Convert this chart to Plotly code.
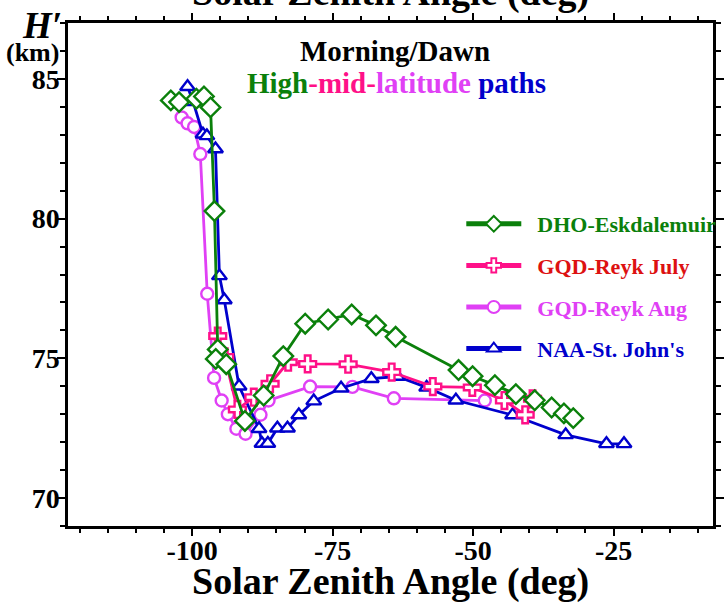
import plotly.graph_objects as go

# Solar zenith angle (deg) and reflection height H' (km) for each VLF path
sza_dho = [-103.80, -102.33, -99.25, -97.90, -96.73, -96.03, -95.45, -95.80, -93.93,
           -90.61, -87.28, -83.78, -79.88, -75.80, -71.61, -67.28, -63.79, -52.59,
           -50.09, -46.12, -42.39, -39.03, -36.02, -33.83, -32.17]
h_dho = [84.23, 84.17, 84.29, 84.37, 83.98, 80.27, 75.32, 74.98, 74.79,
         72.76, 73.67, 75.08, 76.24, 76.39, 76.57, 76.18, 75.77, 74.58,
         74.36, 74.04, 73.72, 73.50, 73.24, 73.03, 72.86]

sza_july = [-95.45, -94.20, -91.95, -89.03, -86.13, -82.91, -79.44, -72.24, -64.49,
            -57.17, -50.14, -44.42, -40.73, -39.42]
h_july = [75.80, 75.05, 73.17, 73.61, 74.09, 74.86, 74.80, 74.79, 74.51,
          73.99, 73.96, 73.49, 72.98, 73.55]

sza_aug = [-101.87, -100.82, -99.65, -98.55, -97.32, -96.10, -94.75, -93.65, -92.13,
           -90.50, -87.84, -86.41, -79.01, -71.48, -64.10, -47.92]
h_aug = [83.62, 83.41, 83.28, 82.31, 77.31, 74.30, 73.49, 73.00, 72.48,
         72.30, 72.98, 73.49, 73.99, 73.98, 73.57, 73.49]

sza_naa = [-100.82, -99.83, -98.08, -97.38, -95.85, -95.15, -94.28, -91.65, -88.10,
           -87.58, -86.53, -84.83, -83.03, -81.02, -78.36, -73.50, -68.11, -63.49,
           -58.27, -53.06, -42.97, -33.52, -26.26, -23.14]
h_naa = [84.72, 84.18, 83.02, 82.96, 82.49, 77.95, 77.09, 74.00, 72.48,
         71.95, 71.95, 72.50, 72.50, 72.97, 73.47, 73.93, 74.27, 74.35,
         73.96, 73.50, 72.97, 72.26, 71.94, 71.94]

x_ticks = [-100, -75, -50, -25]
y_ticks = [70, 75, 80, 85]

FONT = "Liberation Serif, Times New Roman, serif"
GREEN = "#0b800b"
PINK = "#ff1088"
MAGENTA = "#e040f5"
BLUE = "#0000cc"
RED = "#dd1111"

W, H = 726, 605
ML, MR, MT, MB = 68, 2, 23, 79


def fx(px):
    return (px - ML) / (W - ML - MR)


def fy(py):
    return 1 - (py - MT) / (H - MT - MB)


def series(x, y, name, color, text_color, symbol, size, rank):
    return go.Scatter(
        x=x, y=y, mode="lines+markers",
        name=f'&nbsp;&nbsp;<span style="color:{text_color}">{name}</span>',
        legendgroup=name, legendrank=rank,
        line=dict(color=color, width=2.8),
        marker=dict(symbol=symbol, size=size, color="white",
                    line=dict(color=color, width=2.4)),
    )


fig = go.Figure()
fig.add_trace(series(sza_aug, h_aug, "GQD-Reyk Aug", MAGENTA, MAGENTA, "circle", 12, 3))
fig.add_trace(series(sza_naa, h_naa, "NAA-St. John's", BLUE, BLUE, "triangle-up", 13, 4))
fig.add_trace(series(sza_july, h_july, "GQD-Reyk July", PINK, RED, "cross", 14, 2))
fig.add_trace(series(sza_dho, h_dho, "DHO-Eskdalemuir", GREEN, GREEN, "diamond", 15, 1))

axis_common = dict(
    showline=True, linecolor="black", linewidth=2.5, mirror="ticks",
    ticks="outside", tickcolor="black", tickwidth=2,
    showgrid=False, zeroline=False,
    tickfont=dict(family=FONT, size=28, color="black", weight="bold"),
)

fig.update_xaxes(
    range=[-122.1, -7.3], tickmode="array", tickvals=x_ticks,
    ticktext=[str(v) for v in x_ticks], ticklen=7, ticklabelstandoff=-9,
    minor=dict(dtick=5, tick0=0, ticks="outside", ticklen=4,
               tickcolor="black", tickwidth=2),
    **axis_common,
)
fig.update_yaxes(
    range=[69, 87], tickmode="array", tickvals=y_ticks,
    ticktext=[str(v) for v in y_ticks], ticklen=8, ticklabelstandoff=-8,
    minor=dict(dtick=1, tick0=0, ticks="outside", ticklen=5,
               tickcolor="black", tickwidth=2),
    **axis_common,
)

annotations = [
    dict(text="Solar Zenith Angle (deg)", x=fx(396), y=fy(581),
         font=dict(size=38, weight="bold")),
    dict(text="Solar Zenith Angle (deg)", x=fx(396), y=fy(-7),
         font=dict(size=38, weight="bold")),
    dict(text="<i>H′</i>", x=fx(42), y=fy(26), font=dict(size=37, weight="bold")),
    dict(text="(km)", x=fx(32), y=fy(53), font=dict(size=26, weight="bold")),
    dict(text="Morning/Dawn", x=fx(401), y=fy(51), font=dict(size=29, weight="bold")),
    dict(text=(f'<span style="color:{GREEN}">High</span>'
               f'<span style="color:{PINK}">-mid-</span>'
               f'<span style="color:{MAGENTA}">latitude</span> '
               f'<span style="color:{BLUE}">paths</span>'),
         x=fx(402), y=fy(83), font=dict(size=29, weight="bold")),
]
for a in annotations:
    a.update(xref="paper", yref="paper", showarrow=False,
             xanchor="center", yanchor="middle")
    a["font"] = dict(family=FONT, color="black", **a["font"])

fig.update_layout(
    width=W, height=H,
    margin=dict(l=ML, r=MR, t=MT, b=MB),
    plot_bgcolor="white", paper_bgcolor="white",
    annotations=annotations,
    showlegend=True,
    legend=dict(
        x=fx(468), y=fy(203), xanchor="left", yanchor="top",
        bgcolor="rgba(0,0,0,0)", borderwidth=0,
        font=dict(family=FONT, size=22, weight="bold"),
        tracegroupgap=10, itemwidth=55, itemsizing="constant",
    ),
)

fig.write_html("out.html")
